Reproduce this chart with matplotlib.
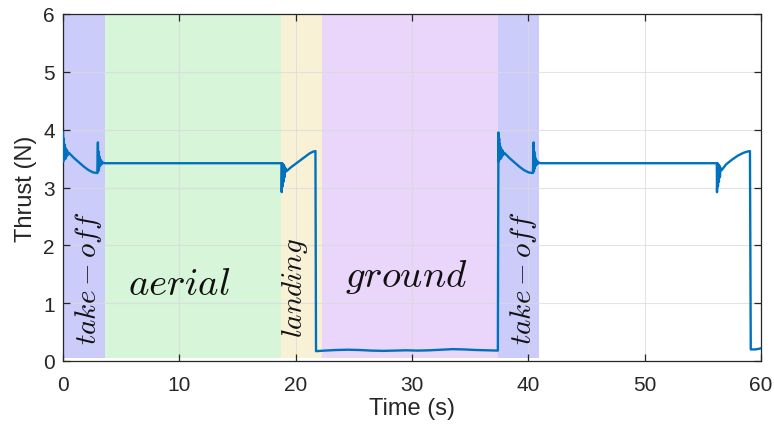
import numpy as np
import matplotlib
matplotlib.use("Agg")
import matplotlib.pyplot as plt

plt.rcParams["font.family"] = ["Liberation Sans", "DejaVu Sans"]
plt.rcParams["mathtext.fontset"] = "cm"

# ---- phases (start, end, colour) ----
phase_start = [0.0, 3.6, 18.75, 22.26, 37.4]
phase_end = [3.6, 18.75, 22.26, 37.4, 40.95]
phase_color = ["#ccccfb", "#d6f5d9", "#f8f1d6", "#e9d6fa", "#ccccfb"]

# ---- thrust trace ----
takeoff1_t = [0.00, 0.03, 0.06, 0.09, 0.12, 0.15, 0.18, 0.22, 0.26, 0.30, 0.35, 0.40,
              0.50, 0.70, 1.00, 1.40, 1.80, 2.20, 2.60, 2.95]
takeoff1_f = [3.95, 3.45, 3.85, 3.48, 3.75, 3.52, 3.70, 3.50, 3.66, 3.54, 3.64, 3.56,
              3.60, 3.56, 3.50, 3.43, 3.36, 3.30, 3.26, 3.25]
settle1_t = [3.00, 3.03, 3.06, 3.09, 3.12, 3.16, 3.20, 3.25, 3.30, 3.36, 3.45, 3.60]
settle1_f = [3.78, 3.28, 3.62, 3.33, 3.54, 3.37, 3.49, 3.39, 3.46, 3.41, 3.43, 3.42]
aerial1_t = [3.7, 18.78]
aerial1_f = [3.42, 3.42]
landing1_t = [18.80, 18.84, 18.88, 18.92, 18.96, 19.00, 19.05, 19.10, 19.20, 19.60,
              20.00, 20.40, 20.80, 21.20, 21.50, 21.70]
landing1_f = [2.92, 3.42, 3.02, 3.40, 3.10, 3.38, 3.18, 3.34, 3.28, 3.35,
              3.41, 3.47, 3.53, 3.59, 3.62, 3.63]
ground_t = [21.75, 22.5, 23.5, 24.5, 25.5, 26.5, 27.5, 28.5, 29.5, 30.5, 31.5,
            32.5, 33.5, 34.5, 35.5, 36.5, 37.38]
ground_f = [0.17, 0.18, 0.19, 0.195, 0.19, 0.18, 0.175, 0.18, 0.185, 0.18, 0.185,
            0.195, 0.205, 0.20, 0.19, 0.185, 0.18]
takeoff2_t = [37.43, 37.46, 37.49, 37.52, 37.55, 37.58, 37.61, 37.65, 37.69, 37.73,
              37.78, 37.83, 37.93, 38.13, 38.43, 38.83, 39.23, 39.63, 40.03, 40.40]
takeoff2_f = [3.95, 3.45, 3.85, 3.48, 3.75, 3.52, 3.70, 3.50, 3.66, 3.54, 3.64, 3.56,
              3.60, 3.56, 3.50, 3.43, 3.36, 3.30, 3.26, 3.25]
settle2_t = [40.45, 40.48, 40.51, 40.54, 40.57, 40.61, 40.65, 40.70, 40.75, 40.81,
             40.90, 41.05]
settle2_f = [3.78, 3.28, 3.62, 3.33, 3.54, 3.37, 3.49, 3.39, 3.46, 3.41, 3.43, 3.42]
aerial2_t = [41.1, 56.2]
aerial2_f = [3.42, 3.42]
landing2_t = [56.22, 56.26, 56.30, 56.34, 56.38, 56.42, 56.47, 56.52, 56.62, 57.00,
              57.50, 58.00, 58.50, 58.80, 59.05]
landing2_f = [2.92, 3.42, 3.02, 3.40, 3.10, 3.38, 3.18, 3.34, 3.30, 3.40,
              3.48, 3.55, 3.60, 3.62, 3.63]
end_t = [59.12, 59.5, 59.8, 60.0]
end_f = [0.20, 0.20, 0.21, 0.22]

t = np.concatenate([takeoff1_t, settle1_t, aerial1_t, landing1_t, ground_t,
                    takeoff2_t, settle2_t, aerial2_t, landing2_t, end_t])
f = np.concatenate([takeoff1_f, settle1_f, aerial1_f, landing1_f, ground_f,
                    takeoff2_f, settle2_f, aerial2_f, landing2_f, end_f])

labels = [r"$take-off$", r"$aerial$", r"$landing$", r"$ground$", r"$take-off$"]
label_x = [2.15, 10.0, 19.95, 29.5, 39.6]
label_y = [1.45, 1.33, 1.28, 1.47, 1.45]
label_rot = [90, 0, 90, 0, 90]
label_size = [21, 28, 21, 28, 21]

fig = plt.figure(figsize=(7.74, 4.35), dpi=100)
ax = fig.add_axes([63/774, 1 - 362/435, 698/774, 347/435])

for s, e, c in zip(phase_start, phase_end, phase_color):
    ax.fill_between([s, e], 0.05, 6, color=c, lw=0, zorder=0)

ax.plot(t, f, color="#0072BD", lw=1.7, zorder=3)

for txt, x, y, r, fs in zip(labels, label_x, label_y, label_rot, label_size):
    ax.text(x, y, txt, rotation=r, ha="center", va="center", fontsize=fs,
            color="#111111", zorder=4)

ax.set_xlim(0, 60)
ax.set_ylim(0, 6)
ax.set_xticks(range(0, 61, 10))
ax.set_yticks(range(0, 7))
ax.grid(True, color="#d9d9d9", lw=0.8, zorder=1)
for g in ax.get_xgridlines() + ax.get_ygridlines():
    g.set_zorder(1)
    g.set_alpha(0.7)
ax.tick_params(direction="in", length=5, width=0.9, colors="#262626",
               labelsize=15, top=True, right=True)
ax.tick_params(axis="x", pad=10)
ax.tick_params(axis="y", pad=6)
for sp in ax.spines.values():
    sp.set_color("#262626")
    sp.set_linewidth(0.9)
ax.set_xlabel("Time (s)", fontsize=17, color="#262626", labelpad=2)
ax.set_ylabel("Thrust (N)", fontsize=17, color="#262626", labelpad=4)

fig.savefig("out.png", dpi=100)
